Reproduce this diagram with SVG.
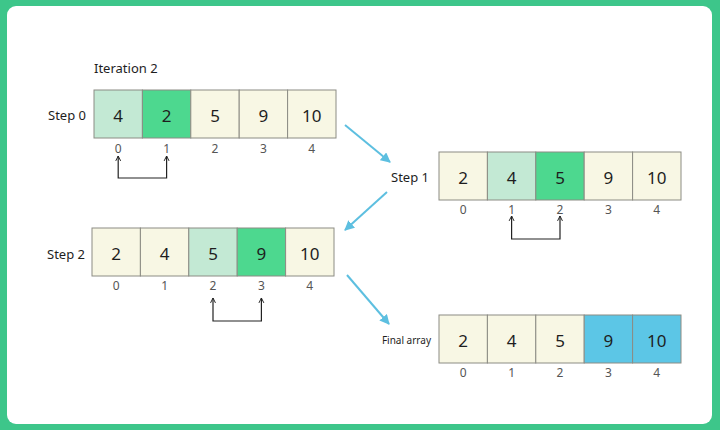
<svg xmlns="http://www.w3.org/2000/svg" width="720" height="430" viewBox="0 0 720 430">
<defs>
<style>
.c{stroke:#8c8c84;stroke-width:1}
.cr{fill:#f8f7e4}
.lg{fill:#c3e9d4}
.dg{fill:#4dd88f}
.bl{fill:#5cc6e6}
.v{font-family:"Noto Sans","Open Sans",sans-serif;font-size:17px;fill:#1e1e1e;text-anchor:middle;dominant-baseline:central}
.i{font-family:"Noto Sans","Open Sans",sans-serif;font-size:12px;fill:#555;text-anchor:middle;dominant-baseline:central}
.l{font-family:"Noto Sans","Open Sans",sans-serif;font-size:13px;fill:#1e1e1e;dominant-baseline:central}
.br{fill:none;stroke:#222;stroke-width:1.2}
.ar{fill:none;stroke:#5dbfe0;stroke-width:2}
</style>
<marker id="ah" viewBox="0 0 10 10" refX="9" refY="5" markerWidth="5" markerHeight="5" orient="auto">
<path d="M0,0 L10,5 L0,10 z" fill="#5dbfe0"/>
</marker>
<marker id="up" viewBox="0 0 10 10" refX="9" refY="5" markerWidth="7" markerHeight="7" orient="auto-start-reverse" markerUnits="userSpaceOnUse">
<path d="M2,1.5 L9,5 L2,8.5" fill="none" stroke="#222" stroke-width="1.4"/>
</marker>
</defs>
<rect x="0" y="0" width="720" height="430" fill="#3dc68a"/>
<rect x="7" y="6" width="705" height="418" rx="9" fill="#ffffff"/>

<text class="l" x="94" y="68">Iteration 2</text>

<g id="step0">
<text class="l" x="86" y="115" text-anchor="end">Step 0</text>
<rect class="c lg" x="94" y="90" width="48.4" height="48"/>
<rect class="c dg" x="142.4" y="90" width="48.4" height="48"/>
<rect class="c cr" x="190.8" y="90" width="48.4" height="48"/>
<rect class="c cr" x="239.2" y="90" width="48.4" height="48"/>
<rect class="c cr" x="287.6" y="90" width="48.4" height="48"/>
<text class="v" x="118.2" y="115">4</text>
<text class="v" x="166.6" y="115">2</text>
<text class="v" x="215" y="115">5</text>
<text class="v" x="263.4" y="115">9</text>
<text class="v" x="311.8" y="115">10</text>
<text class="i" x="118.2" y="148">0</text>
<text class="i" x="166.6" y="148">1</text>
<text class="i" x="215" y="148">2</text>
<text class="i" x="263.4" y="148">3</text>
<text class="i" x="311.8" y="148">4</text>
<path class="br" d="M118.2,156 V178 H166.6 V156" marker-start="url(#up)" marker-end="url(#up)"/>
</g>

<g id="step1">
<text class="l" x="429" y="177" text-anchor="end">Step 1</text>
<rect class="c cr" x="439" y="152" width="48.4" height="48"/>
<rect class="c lg" x="487.4" y="152" width="48.4" height="48"/>
<rect class="c dg" x="535.8" y="152" width="48.4" height="48"/>
<rect class="c cr" x="584.2" y="152" width="48.4" height="48"/>
<rect class="c cr" x="632.6" y="152" width="48.4" height="48"/>
<text class="v" x="463.2" y="177">2</text>
<text class="v" x="511.6" y="177">4</text>
<text class="v" x="560" y="177">5</text>
<text class="v" x="608.4" y="177">9</text>
<text class="v" x="656.8" y="177">10</text>
<text class="i" x="463.2" y="209">0</text>
<text class="i" x="511.6" y="209">1</text>
<text class="i" x="560" y="209">2</text>
<text class="i" x="608.4" y="209">3</text>
<text class="i" x="656.8" y="209">4</text>
<path class="br" d="M511.6,216 V239 H560 V216" marker-start="url(#up)" marker-end="url(#up)"/>
</g>

<g id="step2">
<text class="l" x="85" y="254" text-anchor="end">Step 2</text>
<rect class="c cr" x="92" y="228" width="48.4" height="48"/>
<rect class="c cr" x="140.4" y="228" width="48.4" height="48"/>
<rect class="c lg" x="188.8" y="228" width="48.4" height="48"/>
<rect class="c dg" x="237.2" y="228" width="48.4" height="48"/>
<rect class="c cr" x="285.6" y="228" width="48.4" height="48"/>
<text class="v" x="116.2" y="253">2</text>
<text class="v" x="164.6" y="253">4</text>
<text class="v" x="213" y="253">5</text>
<text class="v" x="261.4" y="253">9</text>
<text class="v" x="309.8" y="253">10</text>
<text class="i" x="116.2" y="285">0</text>
<text class="i" x="164.6" y="285">1</text>
<text class="i" x="213" y="285">2</text>
<text class="i" x="261.4" y="285">3</text>
<text class="i" x="309.8" y="285">4</text>
<path class="br" d="M213,298 V321 H261.4 V298" marker-start="url(#up)" marker-end="url(#up)"/>
</g>

<g id="final">
<text class="l" x="431" y="340" text-anchor="end" style="font-size:10px">Final array</text>
<rect class="c cr" x="439" y="315" width="48.4" height="48"/>
<rect class="c cr" x="487.4" y="315" width="48.4" height="48"/>
<rect class="c cr" x="535.8" y="315" width="48.4" height="48"/>
<rect class="c bl" x="584.2" y="315" width="48.4" height="48"/>
<rect class="c bl" x="632.6" y="315" width="48.4" height="48"/>
<text class="v" x="463.2" y="340">2</text>
<text class="v" x="511.6" y="340">4</text>
<text class="v" x="560" y="340">5</text>
<text class="v" x="608.4" y="340">9</text>
<text class="v" x="656.8" y="340">10</text>
<text class="i" x="463.2" y="372">0</text>
<text class="i" x="511.6" y="372">1</text>
<text class="i" x="560" y="372">2</text>
<text class="i" x="608.4" y="372">3</text>
<text class="i" x="656.8" y="372">4</text>
</g>

<g id="connectors">
<line class="ar" x1="345" y1="125" x2="390" y2="162" marker-end="url(#ah)"/>
<line class="ar" x1="387" y1="192" x2="345" y2="230" marker-end="url(#ah)"/>
<line class="ar" x1="347" y1="275" x2="389" y2="324" marker-end="url(#ah)"/>
</g>
</svg>
